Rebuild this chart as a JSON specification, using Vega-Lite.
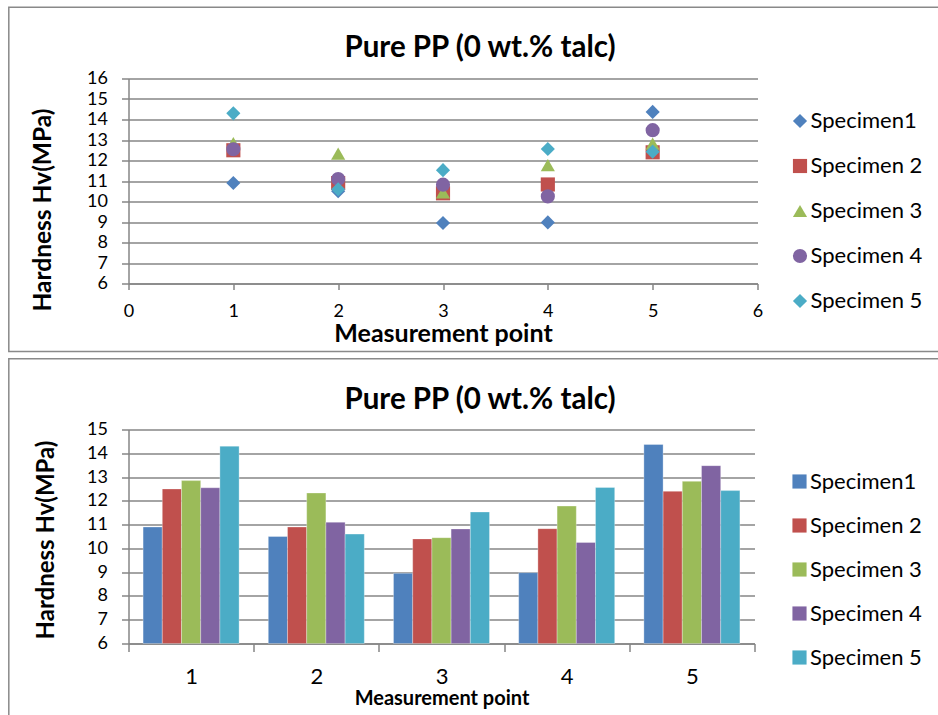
{
  "$schema": "https://vega.github.io/schema/vega-lite/v6.json",
  "padding": {"left": 7.5, "top": 6.5, "right": 0, "bottom": 0},
  "spacing": 5,
  "config": {
    "font": "Lato",
    "view": {"stroke": null},
    "axis": {
      "labelFont": "Lato", "labelColor": "#000000", "titleFont": "Lato", "titleColor": "#000000",
      "titleFontWeight": "bold", "domainColor": "#868686", "domainWidth": 1.5,
      "tickColor": "#868686", "tickWidth": 1.5, "gridColor": "#868686", "gridWidth": 1.3,
      "titleBaseline": "alphabetic", "labelOverlap": false, "labelFlush": false
    },
    "legend": {"labelFont": "Lato", "labelColor": "#000000"},
    "title": {"font": "Lato", "fontWeight": "bold", "color": "#000000", "fontSize": 29.5}
  },
  "datasets": {
    "hv": [
      {"point": 1, "specimen": "Specimen1", "hv": 10.9},
      {"point": 2, "specimen": "Specimen1", "hv": 10.5},
      {"point": 3, "specimen": "Specimen1", "hv": 8.95},
      {"point": 4, "specimen": "Specimen1", "hv": 8.98},
      {"point": 5, "specimen": "Specimen1", "hv": 14.37},
      {"point": 1, "specimen": "Specimen 2", "hv": 12.5},
      {"point": 2, "specimen": "Specimen 2", "hv": 10.9},
      {"point": 3, "specimen": "Specimen 2", "hv": 10.4},
      {"point": 4, "specimen": "Specimen 2", "hv": 10.83},
      {"point": 5, "specimen": "Specimen 2", "hv": 12.4},
      {"point": 1, "specimen": "Specimen 3", "hv": 12.85},
      {"point": 2, "specimen": "Specimen 3", "hv": 12.33},
      {"point": 3, "specimen": "Specimen 3", "hv": 10.45},
      {"point": 4, "specimen": "Specimen 3", "hv": 11.78},
      {"point": 5, "specimen": "Specimen 3", "hv": 12.82},
      {"point": 1, "specimen": "Specimen 4", "hv": 12.55},
      {"point": 2, "specimen": "Specimen 4", "hv": 11.1},
      {"point": 3, "specimen": "Specimen 4", "hv": 10.82},
      {"point": 4, "specimen": "Specimen 4", "hv": 10.25},
      {"point": 5, "specimen": "Specimen 4", "hv": 13.48},
      {"point": 1, "specimen": "Specimen 5", "hv": 14.3},
      {"point": 2, "specimen": "Specimen 5", "hv": 10.6},
      {"point": 3, "specimen": "Specimen 5", "hv": 11.53},
      {"point": 4, "specimen": "Specimen 5", "hv": 12.56},
      {"point": 5, "specimen": "Specimen 5", "hv": 12.43}
    ]
  },
  "resolve": {
    "scale": {"color": "independent", "shape": "independent"},
    "legend": {"color": "independent", "shape": "independent"}
  },
  "vconcat": [
    {
      "width": 629,
      "height": 205,
      "title": {"text": "Pure PP (0 wt.% talc)", "anchor": "middle", "frame": "group", "baseline": "alphabetic", "offset": 0, "dx": 37, "dy": 80},
      "resolve": {"scale": {"x": "independent", "y": "independent"}, "axis": {"x": "independent", "y": "independent"}},
      "layer": [
        {
          "data": {"values": [{}]},
          "mark": {"type": "rect", "fill": "transparent", "stroke": "#898989", "strokeWidth": 1.5},
          "encoding": {
            "x": {"datum": -0.1903, "type": "quantitative", "scale": {"domain": [0, 1], "nice": false, "zero": false}, "axis": null},
            "x2": {"datum": 1.294},
            "y": {"datum": 1.3473, "type": "quantitative", "scale": {"domain": [0, 1], "nice": false, "zero": false}, "axis": null},
            "y2": {"datum": -0.3317}
          }
        },
        {
          "data": {"name": "hv"},
          "mark": {"type": "point", "filled": true, "opacity": 1, "size": 200},
          "encoding": {
            "x": {
              "field": "point", "type": "quantitative", "title": "Measurement point",
              "scale": {"domain": [0, 6], "nice": false, "zero": false},
              "axis": {"values": [0, 1, 2, 3, 4, 5, 6], "tickCount": 7, "grid": false, "tickSize": 6, "labelFontSize": 18, "labelPadding": 12.5, "titleFontSize": 25, "titleY": 58, "format": "d"}
            },
            "y": {
              "field": "hv", "type": "quantitative", "title": "Hardness Hv(MPa)",
              "scale": {"domain": [6, 16], "nice": false, "zero": false},
              "axis": {"values": [6, 7, 8, 9, 10, 11, 12, 13, 14, 15, 16], "tickCount": 11, "grid": true, "tickSize": 7, "labelFontSize": 18, "labelPadding": 14, "titleFontSize": 24.5, "titleX": -78, "titleY": 131}
            },
            "color": {
              "field": "specimen", "type": "nominal",
              "scale": {"domain": ["Specimen1", "Specimen 2", "Specimen 3", "Specimen 4", "Specimen 5"], "range": ["#4F81BD", "#C0504D", "#9BBB59", "#8064A2", "#4BACC6"]},
              "legend": {"orient": "none", "legendX": 660.5, "legendY": 31.5, "title": null, "labelFontSize": 22, "symbolSize": 200, "rowPadding": 23, "labelOffset": -0.5, "padding": 0, "symbolStrokeWidth": 0}
            },
            "shape": {
              "field": "specimen", "type": "nominal",
              "scale": {"domain": ["Specimen1", "Specimen 2", "Specimen 3", "Specimen 4", "Specimen 5"], "range": ["diamond", "square", "triangle-up", "circle", "diamond"]},
              "legend": {"orient": "none", "legendX": 660.5, "legendY": 31.5, "title": null, "labelFontSize": 22, "symbolSize": 200, "rowPadding": 23, "labelOffset": -0.5, "padding": 0, "symbolStrokeWidth": 0}
            }
          }
        }
      ]
    },
    {
      "width": 626,
      "height": 214,
      "title": {"text": "Pure PP (0 wt.% talc)", "anchor": "middle", "frame": "group", "baseline": "alphabetic", "offset": 0, "dx": 38.5, "dy": 80},
      "resolve": {"scale": {"x": "independent", "y": "independent"}, "axis": {"x": "independent", "y": "independent"}},
      "layer": [
        {
          "data": {"values": [{}]},
          "mark": {"type": "rect", "fill": "transparent", "stroke": "#898989", "strokeWidth": 1.5},
          "encoding": {
            "x": {"datum": -0.1912, "type": "quantitative", "scale": {"domain": [0, 1], "nice": false, "zero": false}, "axis": null},
            "x2": {"datum": 1.3003},
            "y": {"datum": 1.3304, "type": "quantitative", "scale": {"domain": [0, 1], "nice": false, "zero": false}, "axis": null},
            "y2": {"datum": -0.38}
          }
        },
        {
          "data": {"name": "hv"},
          "mark": {"type": "bar", "stroke": "#ffffff", "strokeOpacity": 0.3, "strokeWidth": 1},
          "encoding": {
            "x": {
              "field": "point", "type": "ordinal", "title": "Measurement point",
              "scale": {"paddingInner": 0, "paddingOuter": 0},
              "axis": {"labelAngle": 0, "tickBand": "extent", "tickSize": 8, "labelFontSize": 22, "labelPadding": 14.5, "titleFontSize": 20, "titleY": 60.5, "grid": false}
            },
            "xOffset": {
              "field": "specimen", "type": "nominal",
              "scale": {"domain": ["Specimen1", "Specimen 2", "Specimen 3", "Specimen 4", "Specimen 5"], "paddingInner": 0, "paddingOuter": 0.76}
            },
            "y": {
              "field": "hv", "type": "quantitative", "title": "Hardness Hv(MPa)",
              "scale": {"domain": [6, 15], "nice": false, "zero": false},
              "axis": {"values": [6, 7, 8, 9, 10, 11, 12, 13, 14, 15], "tickCount": 10, "grid": true, "tickSize": 7, "labelFontSize": 18, "labelPadding": 14, "titleFontSize": 24, "titleX": -75, "titleY": 110}
            },
            "y2": {"datum": 6},
            "color": {
              "field": "specimen", "type": "nominal",
              "scale": {"domain": ["Specimen1", "Specimen 2", "Specimen 3", "Specimen 4", "Specimen 5"], "range": ["#4F81BD", "#C0504D", "#9BBB59", "#8064A2", "#4BACC6"]},
              "legend": {"orient": "none", "legendX": 660, "legendY": 41, "title": null, "labelFontSize": 22, "symbolType": "square", "symbolSize": 200, "rowPadding": 22, "labelOffset": -0.5, "padding": 0, "symbolStrokeWidth": 0}
            }
          }
        }
      ]
    }
  ]
}
